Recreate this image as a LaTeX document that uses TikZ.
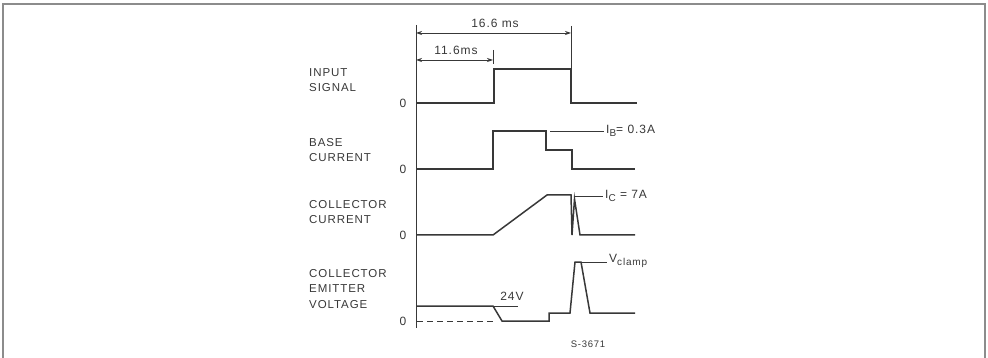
\documentclass[tikz,border=0pt]{standalone}
\usepackage{fontspec}
\setmainfont{Liberation Sans}
\newfontfamily\widesans[LetterSpace=8]{Liberation Sans}
\usetikzlibrary{arrows.meta}
\definecolor{inkgray}{HTML}{383838}
\definecolor{framegray}{HTML}{8C8C8C}
\newcommand{\lowsub}[1]{\raisebox{-0.45ex}{\fontsize{10}{11}\selectfont #1}}

\begin{document}
\begin{tikzpicture}[
    x=1pt, y=-1pt,
    wave/.style={line width=1.5pt, inkgray, line join=miter},
    lead/.style={line width=0.8pt, inkgray},
    dim_arrow/.style={lead, {Stealth[length=6pt,width=4pt]}-{Stealth[length=6pt,width=4pt]}},
    name_format/.style={align=left, font=\widesans\fontsize{11.5}{15.5}\selectfont, text=inkgray, inner sep=0pt, anchor=west},
    value_format/.style={font=\widesans\fontsize{12}{13}\selectfont, text=inkgray, inner sep=0pt},
    ]
    \useasboundingbox (0,0) rectangle (988,358);

    % --- Frame ---
    \draw[framegray, line width=1.2pt] (3,358) -- (3,4) -- (985,4) -- (985,358);

    % --- Time axis ---
    \draw[lead, line width=1pt] (416,25) -- (416,328);

    % --- Dimension ticks and arrows ---
    \coordinate (t0a) at (416,33);
    \coordinate (t0b) at (416,60);
    \coordinate (toff) at (571,33);
    \coordinate (ton) at (493,60);
    \draw[lead] (571,26) -- (571,69);
    \draw[lead] (493,50) -- (493,64);
    \draw[dim_arrow] (t0a) -- (toff);
    \draw[dim_arrow] (t0b) -- (ton);
    \node[value_format] (period) at (495,23) {16.6 ms};
    \node[value_format] (delay) at (456,50) {11.6ms};

    % --- Signal names ---
    \node[name_format] (input_name) at (309,80) {INPUT\\SIGNAL};
    \node[name_format] (base_name) at (309,150) {BASE\\CURRENT};
    \node[name_format] (coll_name) at (309,212) {COLLECTOR\\CURRENT};
    \node[name_format] (vce_name) at (309,289) {COLLECTOR\\EMITTER\\VOLTAGE};

    % --- Zero levels ---
    \node[value_format] (zero_in) at (403,103) {0};
    \node[value_format] (zero_base) at (403,169) {0};
    \node[value_format] (zero_coll) at (403,235) {0};
    \node[value_format] (zero_vce) at (403,321) {0};

    % --- Input signal ---
    \draw[wave] (417,103) -- (494,103) -- (494,69) -- (571,69) -- (571,103) -- (637,103);

    % --- Base current ---
    \draw[wave] (417,169) -- (493,169) -- (493,131) -- (546,131) -- (546,150)
      -- (572,150) -- (572,169) -- (635,169);
    \draw[lead] (550,131) -- (604,131);
    \node[value_format, anchor=west] (ib_val) at (606,131) {I\lowsub{B}= 0.3A};

    % --- Collector current ---
    \draw[wave] (417,235) -- (493,235) -- (547,195) -- (571,195) -- (572,235)
      -- (574.5,199) -- (580,235) -- (635,235);
    \draw[lead] (575,196) -- (603,196);
    \node[value_format, anchor=west] (ic_val) at (605,196) {I\lowsub{C} = 7A};

    % --- Collector emitter voltage ---
    \draw[wave] (417,306) -- (493,306) -- (502,321) -- (549,321) -- (549,313)
      -- (570,313) -- (575,262) -- (581,262) -- (590,313) -- (635,313);
    \draw[wave, line width=1pt, dash pattern=on 6pt off 4pt] (417,321) -- (493,321);
    \draw[lead] (493,306) -- (518,306);
    \node[value_format] (supply_val) at (512,296) {24V};
    \draw[lead] (581,262) -- (607,262);
    \node[value_format, anchor=west] (clamp_val) at (609,261) {V\lowsub{clamp}};

    % --- Figure number ---
    \node[value_format, font=\widesans\fontsize{9.5}{11}\selectfont] (fig_no) at (588,344) {S-3671};

\end{tikzpicture}
\end{document}
